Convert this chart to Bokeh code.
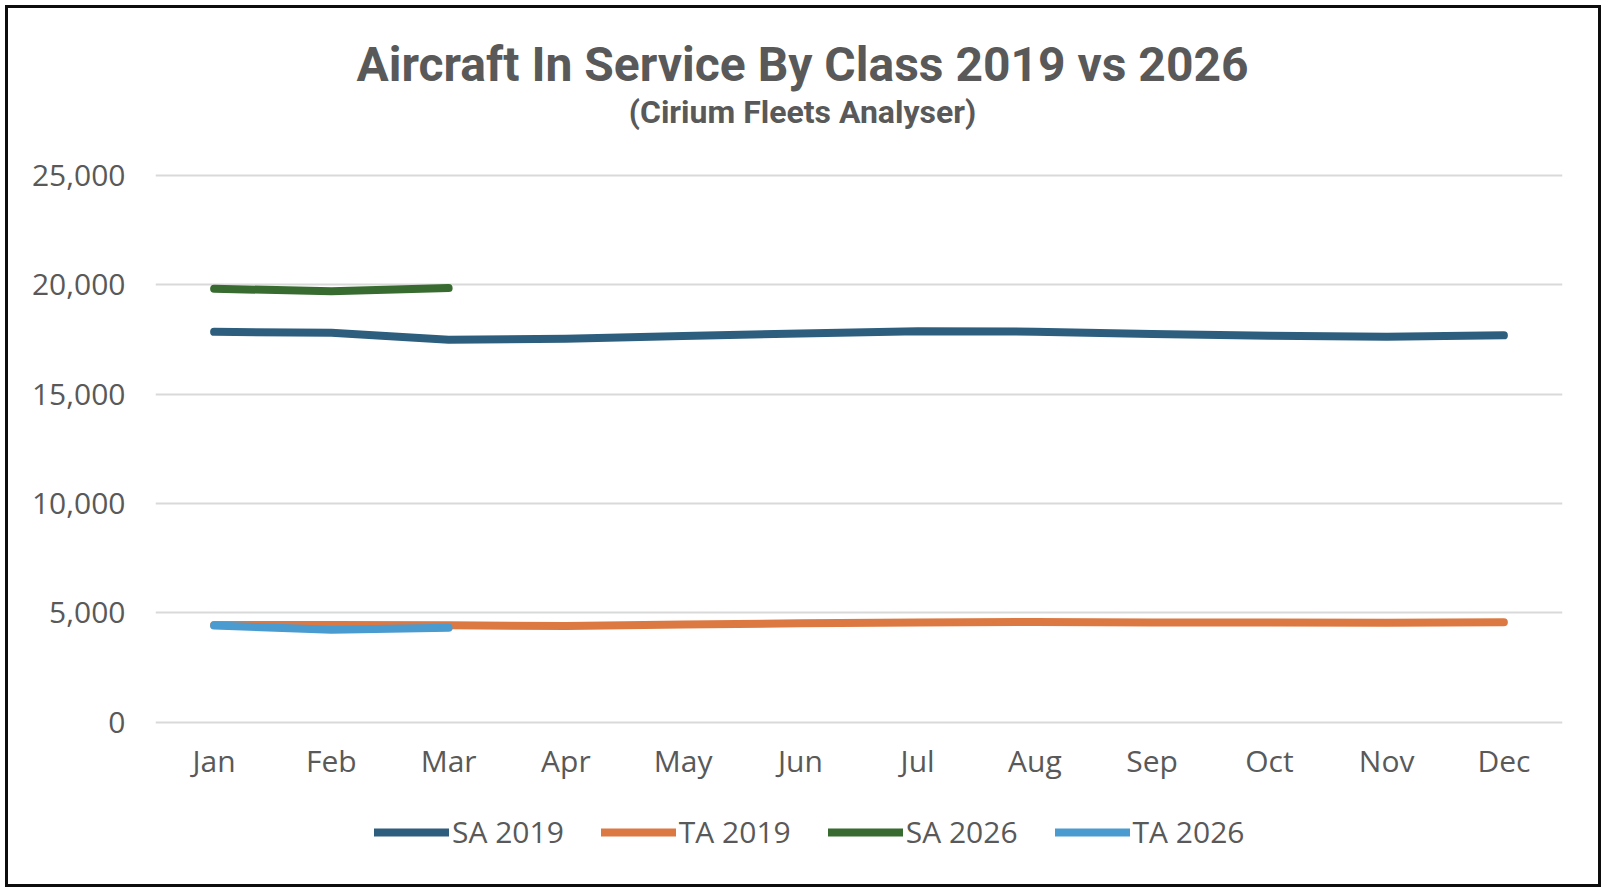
from bokeh.plotting import figure
from bokeh.models import (FactorRange, Range1d, FixedTicker, NumeralTickFormatter,
                          Legend, LegendItem, Label, ColumnDataSource)
from bokeh.embed import file_html
from bokeh.resources import INLINE

months = ["Jan", "Feb", "Mar", "Apr", "May", "Jun", "Jul", "Aug", "Sep", "Oct", "Nov", "Dec"]
sa_2019 = [17850, 17810, 17490, 17530, 17660, 17775, 17880, 17860, 17755, 17670, 17630, 17690]
ta_2019 = [4450, 4450, 4430, 4400, 4470, 4520, 4560, 4580, 4560, 4560, 4550, 4570]
months_2026 = ["Jan", "Feb", "Mar"]
sa_2026 = [19820, 19710, 19850]
ta_2026 = [4420, 4230, 4320]
y_ticks = [0, 5000, 10000, 15000, 20000, 25000]
series_names = ["SA 2019", "TA 2019", "SA 2026", "TA 2026"]
series_colors = ["#2E5E7E", "#DC7942", "#376B2F", "#4A9BD0"]

title_text = "Aircraft In Service By Class 2019 vs 2026"
subtitle_text = "(Cirium Fleets Analyser)"

TXT = "#595959"
FONT = "Open Sans"
W, H = 1590, 876
LW = 8

# vertical scale: the 0..25,000 band spans ~547 px, its top 167 px below the canvas top
px_per_unit = 546.7 / 25000
top_px = 167.0
y_end = 25000 + top_px / px_per_unit
y_start = y_end - H / px_per_unit

p = figure(width=W, height=H, x_range=FactorRange(*months), y_range=Range1d(y_start, y_end),
           output_backend="svg", toolbar_location=None,
           min_border_left=147, min_border_right=36, min_border_top=0, min_border_bottom=0)
p.title = None
p.outline_line_color = None
p.styles = {"position": "relative", "left": "8px", "top": "8px",
            "outline": "3px solid #0d0d0d"}

src19 = ColumnDataSource(dict(month=months, sa=sa_2019, ta=ta_2019))
src26 = ColumnDataSource(dict(month=months_2026, sa=sa_2026, ta=ta_2026))

kw = dict(line_width=LW, line_cap="round", line_join="round")
r1 = p.line("month", "sa", source=src19, line_color=series_colors[0], **kw)
r2 = p.line("month", "ta", source=src19, line_color=series_colors[1], **kw)
r3 = p.line("month", "sa", source=src26, line_color=series_colors[2], **kw)
r4 = p.line("month", "ta", source=src26, line_color=series_colors[3], **kw)

p.xgrid.grid_line_color = None
p.ygrid.grid_line_color = "#D9D9D9"
p.ygrid.grid_line_width = 2

p.yaxis.ticker = FixedTicker(ticks=y_ticks)
p.yaxis.formatter = NumeralTickFormatter(format="0,0")
for ax in (p.xaxis[0], p.yaxis[0]):
    ax.axis_line_color = None
    ax.major_tick_line_color = None
    ax.minor_tick_line_color = None
    ax.major_tick_out = 0
    ax.major_tick_in = 0
    ax.minor_tick_out = 0
    ax.major_label_text_font = FONT
    ax.major_label_text_font_size = "30px"
    ax.major_label_text_color = TXT
p.yaxis.major_label_standoff = 30
p.xaxis.fixed_location = -100
p.xaxis.major_label_standoff = 16

legend = Legend(items=[LegendItem(label=n, renderers=[r]) for n, r in zip(series_names, [r1, r2, r3, r4])],
                orientation="horizontal", location=(219, 32),
                glyph_width=75, glyph_height=20, label_standoff=3, spacing=37,
                padding=0, margin=0, border_line_color=None, background_fill_alpha=0,
                label_text_font=FONT, label_text_font_size="30px", label_text_color=TXT)
p.add_layout(legend)

p.add_layout(Label(x=647, y=H - 55.5, x_units="screen", y_units="screen", text=title_text,
                   text_align="center", text_baseline="middle", text_font="Roboto",
                   text_font_style="bold", text_font_size="48px", text_color=TXT))
p.add_layout(Label(x=647, y=H - 103.5, x_units="screen", y_units="screen", text=subtitle_text,
                   text_align="center", text_baseline="middle", text_font="Roboto",
                   text_font_style="bold", text_font_size="32px", text_color=TXT))

open("out.html", "w").write(file_html(p, INLINE))
